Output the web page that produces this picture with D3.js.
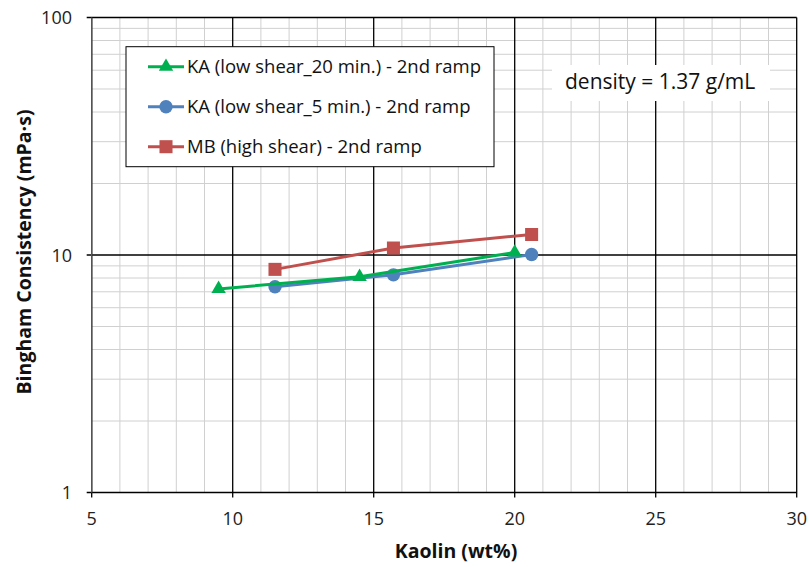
<!DOCTYPE html>
<html><head><meta charset="utf-8">
<script src="https://cdn.jsdelivr.net/npm/d3@7"></script>
<style>body{margin:0;background:#fff}svg{display:block}text{font-family:"Open Sans",sans-serif}</style>
</head><body><svg id="c" width="810" height="567"></svg>
<script>
const seriesNames = ["KA (low shear_20 min.) - 2nd ramp","KA (low shear_5 min.) - 2nd ramp","MB (high shear) - 2nd ramp"];
const colors = ["#00B050","#4F81BD","#C0504D"];
const symbols = ["triangle","circle","square"];
const kaolin20 = [9.5, 14.5, 20.0];
const bingham20 = [7.2, 8.1, 10.25];
const kaolin5 = [11.5, 15.7, 20.6];
const bingham5 = [7.35, 8.25, 10.05];
const kaolinMB = [11.5, 15.7, 20.6];
const binghamMB = [8.7, 10.7, 12.2];
const xTicks = [5,10,15,20,25,30];
const yTicks = [1,10,100];
const annotation = "density = 1.37 g/mL";

const series = [
  {x:kaolin20, y:bingham20},
  {x:kaolin5, y:bingham5},
  {x:kaolinMB, y:binghamMB}
];

const svg = d3.select("#c");
const L=91.7, R=796.7, T=17.5, B=492.5;
const x = d3.scaleLinear().domain([5,30]).range([L,R]);
const y = d3.scaleLog().domain([1,100]).range([B,T]);

const g = svg.append("g");
const minorX = d3.range(5,31).filter(v=>v%5!==0);
g.selectAll(".mx").data(minorX).enter().append("line")
  .attr("x1",d=>x(d)).attr("x2",d=>x(d)).attr("y1",T).attr("y2",B)
  .attr("stroke","#d0d0d0").attr("stroke-width",1);
const minorY = [];
[1,10].forEach(dec=>{for(let k=2;k<10;k++) minorY.push(dec*k);});
g.selectAll(".my").data(minorY).enter().append("line")
  .attr("x1",L).attr("x2",R).attr("y1",d=>y(d)).attr("y2",d=>y(d))
  .attr("stroke","#d0d0d0").attr("stroke-width",1);
g.selectAll(".MX").data(xTicks).enter().append("line")
  .attr("x1",d=>x(d)).attr("x2",d=>x(d)).attr("y1",T).attr("y2",B+5)
  .attr("stroke","#000").attr("stroke-width",1.3);
g.selectAll(".MY").data(yTicks).enter().append("line")
  .attr("x1",L-5).attr("x2",R).attr("y1",d=>y(d)).attr("y2",d=>y(d))
  .attr("stroke","#000").attr("stroke-width",1.3);
svg.append("line").attr("x1",L).attr("x2",L).attr("y1",T).attr("y2",B).attr("stroke","#595959").attr("stroke-width",1.3);

svg.selectAll(".xl").data(xTicks).enter().append("text")
  .attr("x",d=>x(d)).attr("y",525).attr("text-anchor","middle")
  .attr("font-size",18).attr("fill","#222").text(d=>d);
svg.selectAll(".yl").data(yTicks).enter().append("text")
  .attr("x",72).attr("y",d=>y(d)+6.5).attr("text-anchor","end")
  .attr("font-size",18).attr("fill","#222").text(d=>d);

svg.append("text").attr("x",456).attr("y",558).attr("text-anchor","middle")
  .attr("font-size",19.5).attr("font-weight","bold").attr("fill","#111").text("Kaolin (wt%)");
svg.append("text").attr("transform","translate(31,252) rotate(-90)").attr("text-anchor","middle")
  .attr("font-size",19.5).attr("font-weight","bold").attr("fill","#111").text("Bingham Consistency (mPa·s)");

svg.append("rect").attr("x",552).attr("y",65).attr("width",218).attr("height",36).attr("fill","#fff");
svg.append("text").attr("x",565).attr("y",89).attr("font-size",21).attr("fill","#111").text(annotation);

function sym(sel, type, color, size){
  const st = type==="triangle"?d3.symbolTriangle:type==="circle"?d3.symbolCircle:d3.symbolSquare;
  return sel.append("path").attr("d",d3.symbol().type(st).size(size)).attr("fill",color);
}
const sizes = [90,140,170];
const line = d3.line().x(d=>x(d[0])).y(d=>y(d[1]));
[2,1,0].forEach(i=>{
  const s = series[i];
  const pts = s.x.map((v,j)=>[v,s.y[j]]);
  svg.append("path").datum(pts).attr("d",line).attr("fill","none")
    .attr("stroke",colors[i]).attr("stroke-width",3);
  pts.forEach(p=>{
    sym(svg.append("g").attr("transform",`translate(${x(p[0])},${y(p[1])})`),symbols[i],colors[i],sizes[i]);
  });
});

const lg = svg.append("g");
lg.append("rect").attr("x",126).attr("y",46.7).attr("width",368).attr("height",120)
  .attr("fill","#fff").attr("stroke","#000").attr("stroke-width",1);
seriesNames.forEach((n,i)=>{
  const yy = 66.7 + i*40;
  lg.append("line").attr("x1",148).attr("x2",184).attr("y1",yy).attr("y2",yy)
    .attr("stroke",colors[i]).attr("stroke-width",3);
  sym(lg.append("g").attr("transform",`translate(166,${yy})`),symbols[i],colors[i],sizes[i]);
  lg.append("text").attr("x",187).attr("y",yy+6.5).attr("font-size",18.5).attr("fill","#111").text(n);
});
</script></body></html>
